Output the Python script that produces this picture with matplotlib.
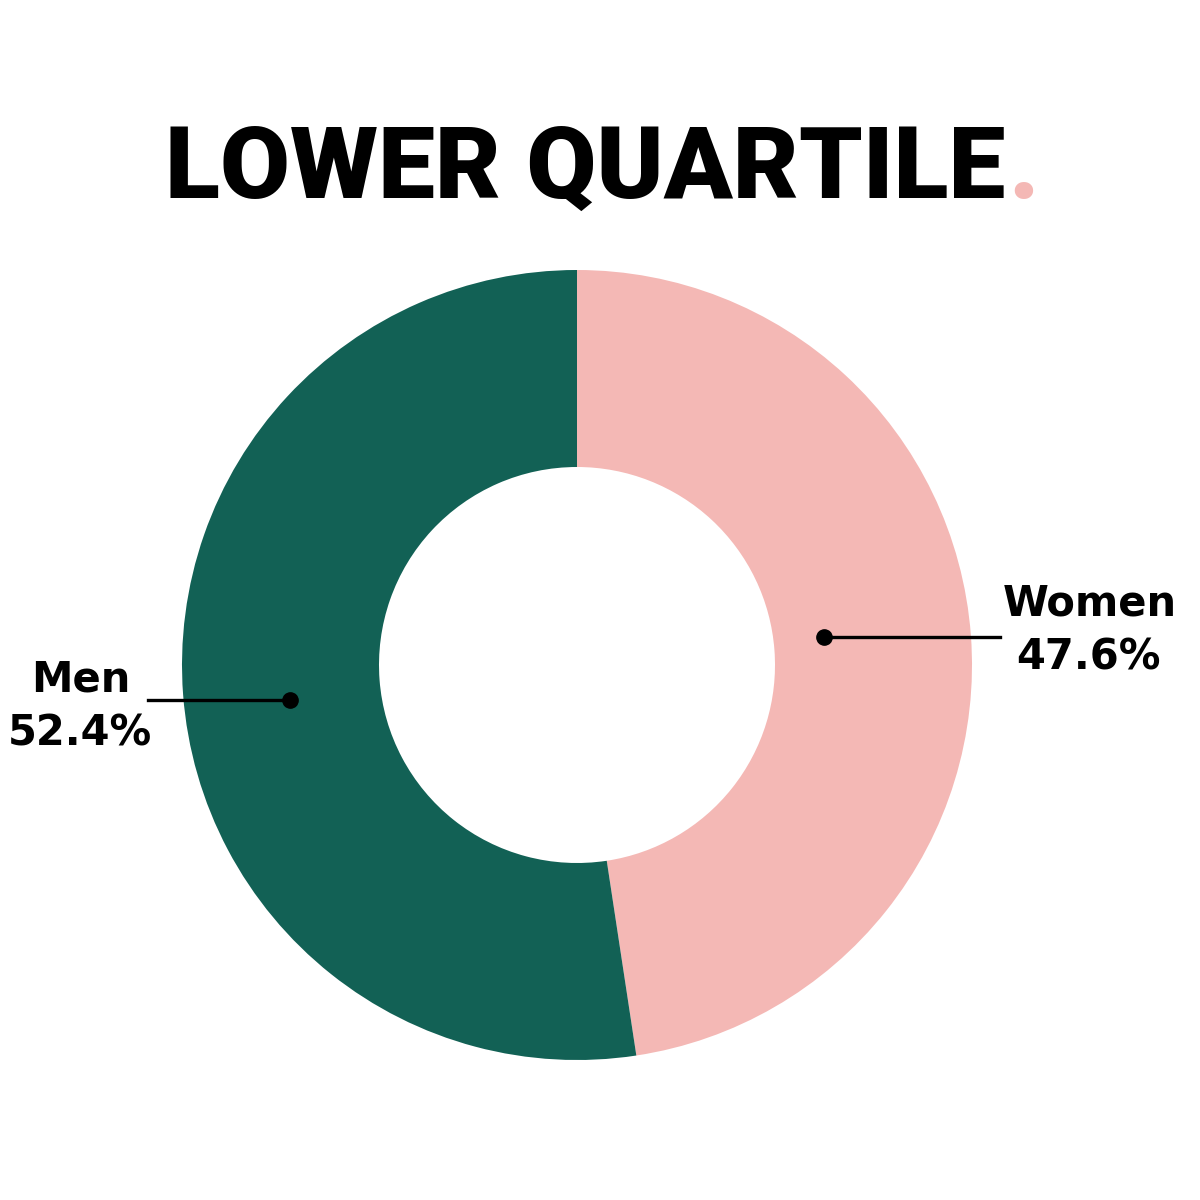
import matplotlib.pyplot as plt

labels = ["Women", "Men"]
shares = [47.6, 52.4]
colors = ["#f4b8b5", "#126155"]
title = "LOWER QUARTILE"

fig = plt.figure(figsize=(12, 12), dpi=100)
ax = fig.add_axes([0, 0, 1, 1])

ax.pie(shares, colors=colors, startangle=90, counterclock=False,
       center=(577, 535), radius=395,
       wedgeprops=dict(width=197, linewidth=0))
ax.set_xlim(0, 1200)
ax.set_ylim(0, 1200)
ax.set_aspect("equal")
ax.axis("off")

# title: no condensed face installed, so size it to the reference width
tfont = dict(family=["Roboto", "DejaVu Sans"], fontweight="black")
t = ax.text(585, 1002, title, ha="center", va="baseline", fontsize=100, **tfont)
fig.canvas.draw()
w = t.get_window_extent().width
t.set_fontsize(100 * 840 / w)
fig.canvas.draw()
bb = t.get_window_extent().transformed(ax.transData.inverted())
ax.text(bb.x1 + 3, 1002, ".", ha="left", va="baseline",
        fontsize=t.get_fontsize(), color=colors[0], **tfont)

# leader lines and labels
lfont = dict(family="DejaVu Sans", fontweight="bold", fontsize=30)
ax.plot([824, 1000], [563, 563], color="black", lw=2.4)
ax.plot(824, 563, "o", color="black", ms=11)
ax.text(1090, 585, labels[0], ha="center", va="baseline", **lfont)
ax.text(1088, 530, f"{shares[0]}%", ha="center", va="baseline", **lfont)

ax.plot([148, 290], [500, 500], color="black", lw=2.4)
ax.plot(290, 500, "o", color="black", ms=11)
ax.text(81, 508, labels[1], ha="center", va="baseline", **lfont)
ax.text(80, 454, f"{shares[1]}%", ha="center", va="baseline", **lfont)

fig.savefig("out.png", dpi=100)
